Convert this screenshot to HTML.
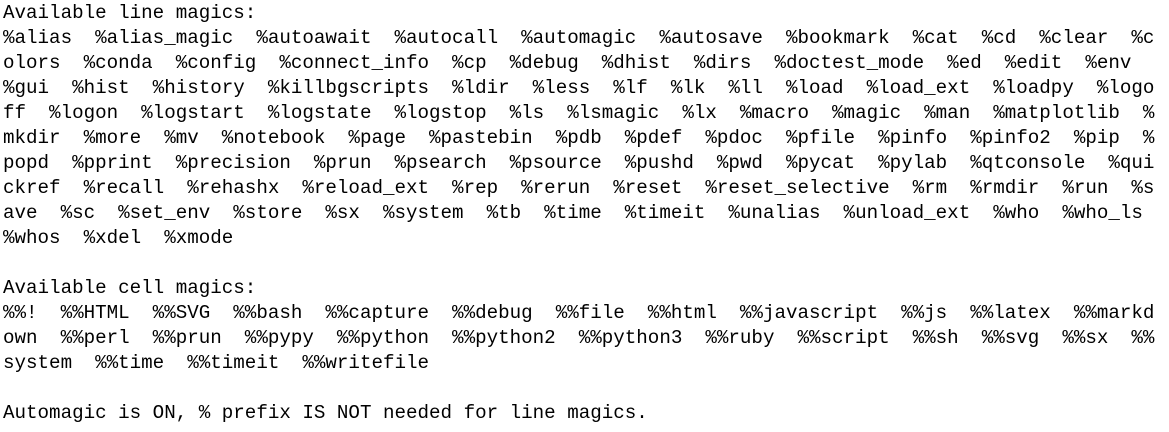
<!DOCTYPE html>
<html><head><style>
html,body{margin:0;padding:0;background:#fff;width:1169px;height:432px;overflow:hidden}
pre{margin:0;padding:1px 0 0 3px;font-family:"Liberation Mono",monospace;font-size:19.2px;line-height:25px;color:#000;white-space:pre}
</style></head><body><pre>Available line magics:
%alias  %alias_magic  %autoawait  %autocall  %automagic  %autosave  %bookmark  %cat  %cd  %clear  %c
olors  %conda  %config  %connect_info  %cp  %debug  %dhist  %dirs  %doctest_mode  %ed  %edit  %env  
%gui  %hist  %history  %killbgscripts  %ldir  %less  %lf  %lk  %ll  %load  %load_ext  %loadpy  %logo
ff  %logon  %logstart  %logstate  %logstop  %ls  %lsmagic  %lx  %macro  %magic  %man  %matplotlib  %
mkdir  %more  %mv  %notebook  %page  %pastebin  %pdb  %pdef  %pdoc  %pfile  %pinfo  %pinfo2  %pip  %
popd  %pprint  %precision  %prun  %psearch  %psource  %pushd  %pwd  %pycat  %pylab  %qtconsole  %qui
ckref  %recall  %rehashx  %reload_ext  %rep  %rerun  %reset  %reset_selective  %rm  %rmdir  %run  %s
ave  %sc  %set_env  %store  %sx  %system  %tb  %time  %timeit  %unalias  %unload_ext  %who  %who_ls  
%whos  %xdel  %xmode

Available cell magics:
%%!  %%HTML  %%SVG  %%bash  %%capture  %%debug  %%file  %%html  %%javascript  %%js  %%latex  %%markd
own  %%perl  %%prun  %%pypy  %%python  %%python2  %%python3  %%ruby  %%script  %%sh  %%svg  %%sx  %%
system  %%time  %%timeit  %%writefile

Automagic is ON, % prefix IS NOT needed for line magics.</pre></body></html>
